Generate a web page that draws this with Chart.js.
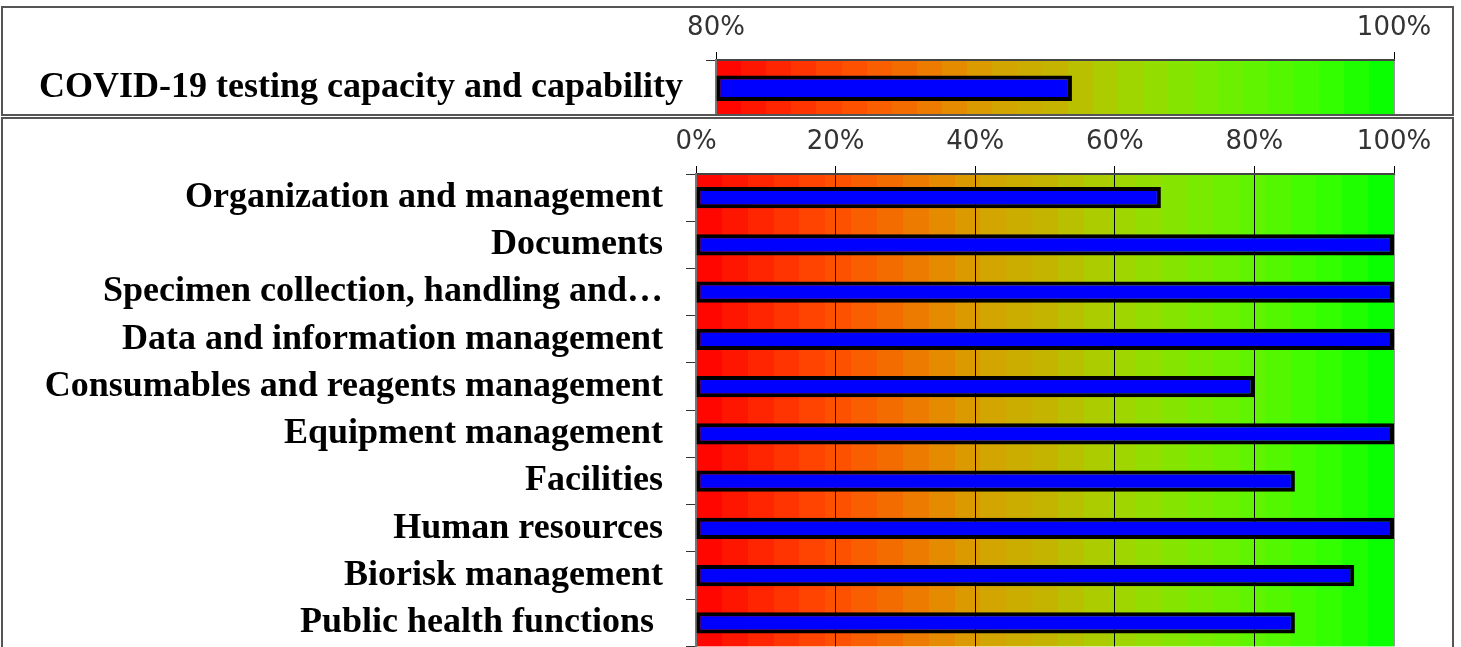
<!DOCTYPE html>
<html><head><meta charset="utf-8">
<script src="https://cdn.jsdelivr.net/npm/chart.js@4.4.1/dist/chart.umd.min.js"></script>
<style>
html,body{margin:0;padding:0;background:#fff;overflow:hidden;width:1461px;height:647px}
.panel{position:absolute;box-sizing:border-box;border:2px solid #555;overflow:hidden;background:#fff}
#p1{left:1px;top:6px;width:1453px;height:110px}
#p2{left:1px;top:117px;width:1453px;height:600px}
canvas{position:absolute;left:0;top:0}
</style></head><body>
<div class="panel" id="p1"><canvas id="c1" width="1449" height="153"></canvas></div>
<div class="panel" id="p2"><canvas id="c2" width="1449" height="572"></canvas></div>
<script>
// ---- data ----
const topCategories = ['COVID-19 testing capacity and capability'];
const topValues = [90.5];
const topTickValues = [80, 100];

const categories = [
  'Organization and management',
  'Documents',
  'Specimen collection, handling and\u2026',
  'Data and information management',
  'Consumables and reagents management',
  'Equipment management',
  'Facilities',
  'Human resources',
  'Biorisk management',
  'Public health functions '
];
const values = [66.6, 100, 100, 100, 80, 100, 85.8, 100, 94.3, 85.8];
const tickValues = [0, 20, 40, 60, 80, 100];

// ---- style ----
const bandStops = [
  [0.0, [255, 0, 0]], [0.2, [255, 80, 0]], [0.3, [240, 116, 0]], [0.4, [216, 160, 0]],
  [0.5, [196, 180, 0]], [0.6, [164, 212, 0]], [0.7, [128, 232, 0]], [0.8, [96, 244, 0]],
  [0.9, [56, 255, 0]], [1.0, [0, 255, 0]]
];
function colorAt(t) {
  for (let i = 0; i < bandStops.length - 1; i++) {
    const [t0, c0] = bandStops[i], [t1, c1] = bandStops[i + 1];
    if (t >= t0 && t <= t1) {
      const f = (t - t0) / (t1 - t0);
      const c = c0.map((v, k) => Math.round(v + (c1[k] - v) * f));
      return `rgb(${c[0]},${c[1]},${c[2]})`;
    }
  }
  return 'rgb(0,255,0)';
}
const bandsPlugin = {
  id: 'bands',
  beforeDraw(chart) {
    const { ctx, chartArea: a } = chart;
    const n = 27;
    ctx.save();
    for (let i = 0; i < n; i++) {
      const x0 = Math.round(a.left + a.width * i / n);
      const x1 = Math.round(a.left + a.width * (i + 1) / n);
      ctx.fillStyle = colorAt((i + 0.5) / n);
      ctx.fillRect(x0, a.top, x1 - x0, a.height);
    }
    ctx.restore();
  }
};

const labelFont = { family: '"Liberation Serif", "Times New Roman", serif', size: 36, weight: 'bold' };
const tickFont = { family: '"DejaVu Sans", Verdana, sans-serif', size: 26 };

function makeChart(id, cats, vals, ticks, min, base, yWidth, xHeight, padBottom) {
  return new Chart(document.getElementById(id), {
    type: 'bar',
    data: {
      labels: cats,
      datasets: [{
        data: vals,
        base: base,
        backgroundColor: '#0000ff',
        borderColor: '#000000',
        borderWidth: 4,
        borderSkipped: false,
        barPercentage: 0.45,
        categoryPercentage: 1.0
      }]
    },
    options: {
      indexAxis: 'y',
      responsive: false,
      animation: false,
      devicePixelRatio: 1,
      layout: { padding: { left: 0, right: 58, top: 0, bottom: padBottom } },
      plugins: { legend: { display: false }, tooltip: { enabled: false } },
      scales: {
        x: {
          position: 'top',
          min: min, max: 100,
          afterBuildTicks: s => { s.ticks = ticks.map(v => ({ value: v })); },
          afterFit: s => { s.height = xHeight; },
          ticks: { font: tickFont, color: '#333', padding: 8, callback: v => v + '%', maxRotation: 0 },
          grid: {
            color: c => (c.tick && (c.tick.value === 100 || c.tick.value === min)) ? '#999' : '#000',
            tickColor: '#000', tickLength: 8, lineWidth: 1
          },
          border: { color: '#444', width: 2 }
        },
        y: {
          afterFit: s => { s.width = yWidth; },
          ticks: { font: labelFont, color: '#000', padding: 23, autoSkip: false },
          grid: { drawOnChartArea: false, tickLength: 10, color: '#333' },
          border: { color: '#777', width: 2 }
        }
      }
    },
    plugins: [bandsPlugin]
  });
}

makeChart('c1', topCategories, topValues, topTickValues, 80, 80, 713, 52, 19);
makeChart('c2', categories, values, tickValues, 0, 0, 693, 55, 21);
</script>
</body></html>
